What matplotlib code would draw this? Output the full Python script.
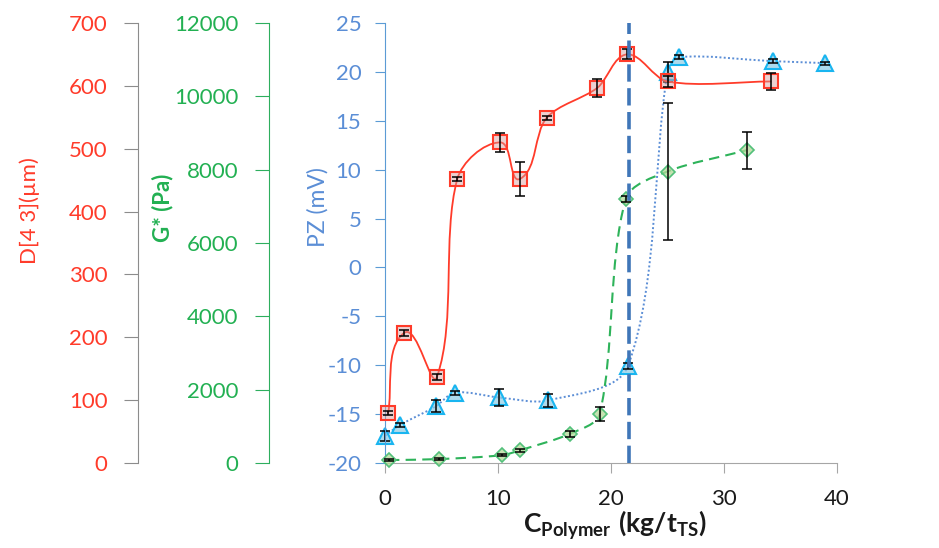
import numpy as np
import matplotlib
matplotlib.use("Agg")
import matplotlib.pyplot as plt
from matplotlib.path import Path
from matplotlib.patches import PathPatch

plt.rcParams['font.family'] = ['Lato', 'DejaVu Sans']
plt.rcParams['axes.unicode_minus'] = False
plt.rcParams['mathtext.fontset'] = 'custom'
plt.rcParams['mathtext.rm'] = 'Lato'
plt.rcParams['mathtext.bf'] = 'Lato:bold'

# D[4 3] (um) - red squares
d_x = [0.27, 1.7, 4.6, 6.4, 10.2, 11.95, 14.3, 18.8, 21.4, 25.0, 34.2]
d_y = [79, 207, 137, 452, 510, 452, 549, 597, 650, 607, 607]
d_err = [3, 5, 5, 3, 15, 27, 3, 14, 8, 9, 13]

# G* (Pa) - green diamonds
g_x = [0.35, 4.8, 10.35, 11.95, 16.4, 19.0, 21.3, 25.0, 32.0]
g_y = [80, 107, 213, 347, 800, 1333, 7200, 7950, 8530]
g_err = [20, 20, 30, 40, 80, 190, 80, 1880, 505]

# PZ (mV) - blue triangles
pz_x = [0.0, 1.35, 4.5, 6.2, 10.1, 14.4, 21.5, 25.0, 26.0, 34.3, 38.9]
pz_y = [-17.2, -16.1, -14.2, -12.8, -13.3, -13.6, -10.1, 20.0, 21.5, 21.1, 20.9]
pz_err = [0.5, 0.2, 0.6, 0.2, 0.9, 0.65, 0.3, 1.05, 0.2, 0.2, 0.15]

cmc_x = 21.6

RED = '#ff3b2a'
GREEN = '#22b052'
BLUE = '#5b8ed6'


def smooth_path(a, xs, ys, k=0.3):
    # smoothed line like excel: bezier segments, tangents scaled by chord length (screen space)
    pts = a.transData.transform(np.column_stack([xs, ys]))
    n = len(pts)

    def unit(v):
        L = np.hypot(*v)
        return v / L if L > 0 else v

    verts = [pts[0]]
    codes = [Path.MOVETO]
    for i in range(n - 1):
        p0 = pts[i - 1] if i > 0 else pts[i]
        p1 = pts[i]
        p2 = pts[i + 1]
        p3 = pts[i + 2] if i + 2 < n else pts[i + 1]
        L = np.hypot(*(p2 - p1))
        verts += [p1 + unit(p2 - p0) * L * k, p2 - unit(p3 - p1) * L * k, p2]
        codes += [Path.CURVE4] * 3
    verts = a.transData.inverted().transform(np.array(verts))
    return Path(verts, codes)


fig = plt.figure(figsize=(9.39, 5.48), dpi=100)
W, H = 939, 548
ax_l, ax_r, ax_t, ax_b = 385, 837, 23, 463
ax = fig.add_axes([ax_l / W, 1 - ax_b / H, (ax_r - ax_l) / W, (ax_b - ax_t) / H])
ax_g = ax.twinx()
ax_d = ax.twinx()

ax.set_xlim(0, 40)
ax.set_ylim(-20, 25)
ax_g.set_ylim(0, 12000)
ax_d.set_ylim(0, 700)

ax.set_xticks(range(0, 41, 10))
ax.set_yticks(range(-20, 26, 5))
ax_g.set_yticks(range(0, 12001, 2000))
ax_d.set_yticks(range(0, 701, 100))

for a in (ax, ax_g, ax_d):
    a.patch.set_visible(False)
    for s in ('top', 'right'):
        a.spines[s].set_visible(False)
for a in (ax_g, ax_d):
    a.spines['bottom'].set_visible(False)
    a.spines['left'].set_visible(True)
    a.yaxis.set_ticks_position('left')
    a.yaxis.set_label_position('left')

ax.spines['left'].set_color('#5b9bd5')
ax.spines['bottom'].set_color('#a6a6a6')
ax.tick_params(axis='y', colors='#5b9bd5', labelcolor=BLUE, labelsize=16,
               length=7, direction='out', pad=10)
ax.tick_params(axis='x', colors='#a6a6a6', labelcolor='#1a1a1a', labelsize=16,
               length=7, direction='out', pad=12)

ax_g.spines['left'].set_position(('axes', (269 - ax_l) / (ax_r - ax_l)))
ax_g.spines['left'].set_color('#2eae5e')
ax_g.tick_params(axis='y', colors='#2eae5e', labelcolor=GREEN, labelsize=16,
                 length=10, pad=12)

ax_d.spines['left'].set_position(('axes', (138 - ax_l) / (ax_r - ax_l)))
ax_d.spines['left'].set_color('#8c8c8c')
ax_d.tick_params(axis='y', colors='#8c8c8c', labelcolor=RED, labelsize=16,
                 length=10, pad=12)

# PZ series
ax.add_patch(PathPatch(smooth_path(ax, pz_x, pz_y), facecolor='none', edgecolor='#5b8ed6',
                       lw=1.4, linestyle=(0, (1, 1.2)), clip_on=False))
ax.plot(pz_x, pz_y, linestyle='none', marker='^', markersize=11,
        markerfacecolor=(0.55, 0.8, 0.9, 0.7), markeredgecolor='#19b5f0',
        markeredgewidth=1.5, clip_on=False)
ax.errorbar(pz_x, pz_y, yerr=pz_err, fmt='none', ecolor='black', elinewidth=1.1,
            capsize=3.7, capthick=1.1, clip_on=False)

# G* series
ax_g.add_patch(PathPatch(smooth_path(ax_g, g_x, g_y), facecolor='none', edgecolor='#2eb35a',
                         lw=1.5, linestyle=(0, (5, 3)), clip_on=False))
ax_g.plot(g_x, g_y, linestyle='none', marker='D', markersize=7.5,
          markerfacecolor=(0.7, 0.85, 0.6, 0.75), markeredgecolor='#52c07a',
          markeredgewidth=1.2, clip_on=False)
ax_g.errorbar(g_x, g_y, yerr=g_err, fmt='none', ecolor='black', elinewidth=1.1,
              capsize=3.7, capthick=1.1, clip_on=False)

# D[4 3] series
ax_d.add_patch(PathPatch(smooth_path(ax_d, d_x, d_y), facecolor='none', edgecolor=RED,
                         lw=1.3, clip_on=False))
ax_d.plot(d_x, d_y, linestyle='none', marker='s', markersize=10,
          markerfacecolor=(0.85, 0.6, 0.6, 0.45), markeredgecolor=RED,
          markeredgewidth=1.5, clip_on=False)
ax_d.errorbar(d_x, d_y, yerr=d_err, fmt='none', ecolor='black', elinewidth=1.1,
              capsize=3.7, capthick=1.1, clip_on=False)

ax_d.axvline(cmc_x, color='#3f76b8', lw=2.6, linestyle=(0, (4.8, 1.8)), clip_on=False)

fig.text(30 / W, 1 - 211 / H, 'D[4 3](µm)', rotation=90, color=RED, fontsize=16,
         ha='center', va='center')
fig.text(163 / W, 1 - 208 / H, 'G* (Pa)', rotation=90, color=GREEN, fontsize=16,
         fontweight='bold', ha='center', va='center')
fig.text(318 / W, 1 - 207 / H, 'PZ (mV)', rotation=90, color=BLUE, fontsize=16.5,
         ha='center', va='center')
fig.text(615 / W, 1 - 525 / H, r'$\mathbf{C_{Polymer}\ (kg/t_{TS})}$', color='#1a1a1a',
         fontsize=19, ha='center', va='center')

fig.savefig('out.png', dpi=100)
